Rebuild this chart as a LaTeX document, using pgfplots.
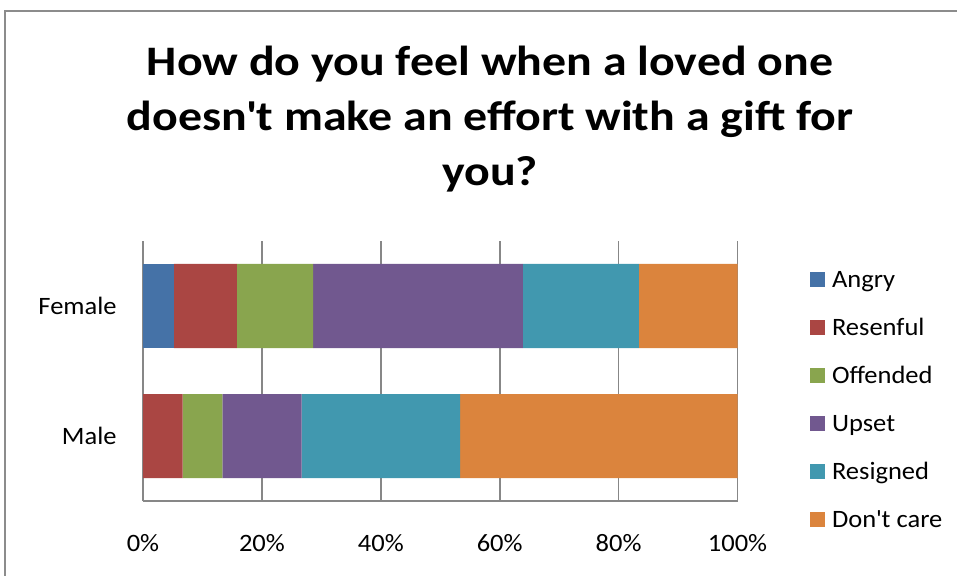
\documentclass[border=0pt]{standalone}
\usepackage{pgfplots}
\pgfplotsset{compat=1.18}
\usepackage{fontspec}
\setmainfont{Carlito}
\newfontfamily\labelfam{Carlito}[FakeStretch=1.06]
\newfontfamily\titlefam{Carlito}[FakeStretch=1.14]
\definecolor{angry}{HTML}{4572A7}
\definecolor{resent}{HTML}{AA4643}
\definecolor{offend}{HTML}{89A54E}
\definecolor{upset}{HTML}{71588F}
\definecolor{resign}{HTML}{4198AF}
\definecolor{dontcare}{HTML}{DB843D}
\definecolor{gridgray}{HTML}{878787}
\definecolor{framegray}{HTML}{8C8C8C}
\pgfplotsset{sq legend/.style={legend image code/.code={\fill[##1] (0pt,0pt) rectangle (7.5pt,7.5pt);}}}
\newcommand{\labelfont}{\labelfam\fontsize{12.5}{15}\selectfont}
\newcommand{\titlefont}{\titlefam\fontsize{21}{27.5}\selectfont\bfseries}
\begin{document}
\begin{tikzpicture}[x=1pt,y=1pt]
\useasboundingbox (0,0) rectangle (478.5,-288);
\clip (0,0) rectangle (478.5,-288);
\draw[framegray, line width=0.8pt] (2.5,-5.5) rectangle (495,-300);
\node[anchor=base, font=\titlefont, inner sep=0pt] at (245,-38) {How do you feel when a loved one};
\node[anchor=base, font=\titlefont, inner sep=0pt] at (245,-65.5) {doesn\textquotesingle t make an effort with a gift for};
\node[anchor=base, font=\titlefont, inner sep=0pt] at (245,-93) {you?};
\begin{axis}[
  at={(71.5pt,-250.5pt)}, anchor=south west,
  scale only axis, width=297.25pt, height=130pt,
  xbar stacked, bar width=42pt,
  xmin=0, xmax=100, ymin=-0.5, ymax=1.5,
  ytick={0,1}, yticklabels={Male,Female},
  xtick={0,20,40,60,80,100},
  xticklabels={0\%,20\%,40\%,60\%,80\%,100\%},
  major tick length=0pt,
  axis x line*=bottom, axis y line*=left,
  axis line style={gridgray, line width=0.9pt},
  xmajorgrids, grid style={gridgray, line width=0.8pt},
  ymajorgrids=false,
  xticklabel style={font=\labelfont, inner sep=0pt, anchor=base, yshift=-25pt},
  yticklabel style={font=\labelfont, inner sep=0pt, anchor=base east, xshift=-13pt, yshift=-4pt},
  legend cell align=left,
  legend style={at={(1.122,0.8923)}, anchor=north west, draw=none, fill=none,
    inner sep=0pt, row sep=12pt, column sep=3.3pt, font=\labelfont,
    nodes={inner sep=0pt, text height=9pt, text depth=3pt, anchor=base west}},
]
\addplot[fill=angry, draw=none, sq legend] coordinates {(5.2,1) (0,0)};
\addplot[fill=resent, draw=none, sq legend] coordinates {(10.6,1) (6.67,0)};
\addplot[fill=offend, draw=none, sq legend] coordinates {(12.8,1) (6.67,0)};
\addplot[fill=upset, draw=none, sq legend] coordinates {(35.3,1) (13.33,0)};
\addplot[fill=resign, draw=none, sq legend] coordinates {(19.5,1) (26.67,0)};
\addplot[fill=dontcare, draw=none, sq legend] coordinates {(16.6,1) (46.66,0)};
\legend{Angry,Resenful,Offended,Upset,Resigned,Don\textquotesingle t care}
\draw[gridgray, line width=0.9pt] (axis cs:0,-0.5) -- (axis cs:0,1.5);
\end{axis}
\end{tikzpicture}
\end{document}
